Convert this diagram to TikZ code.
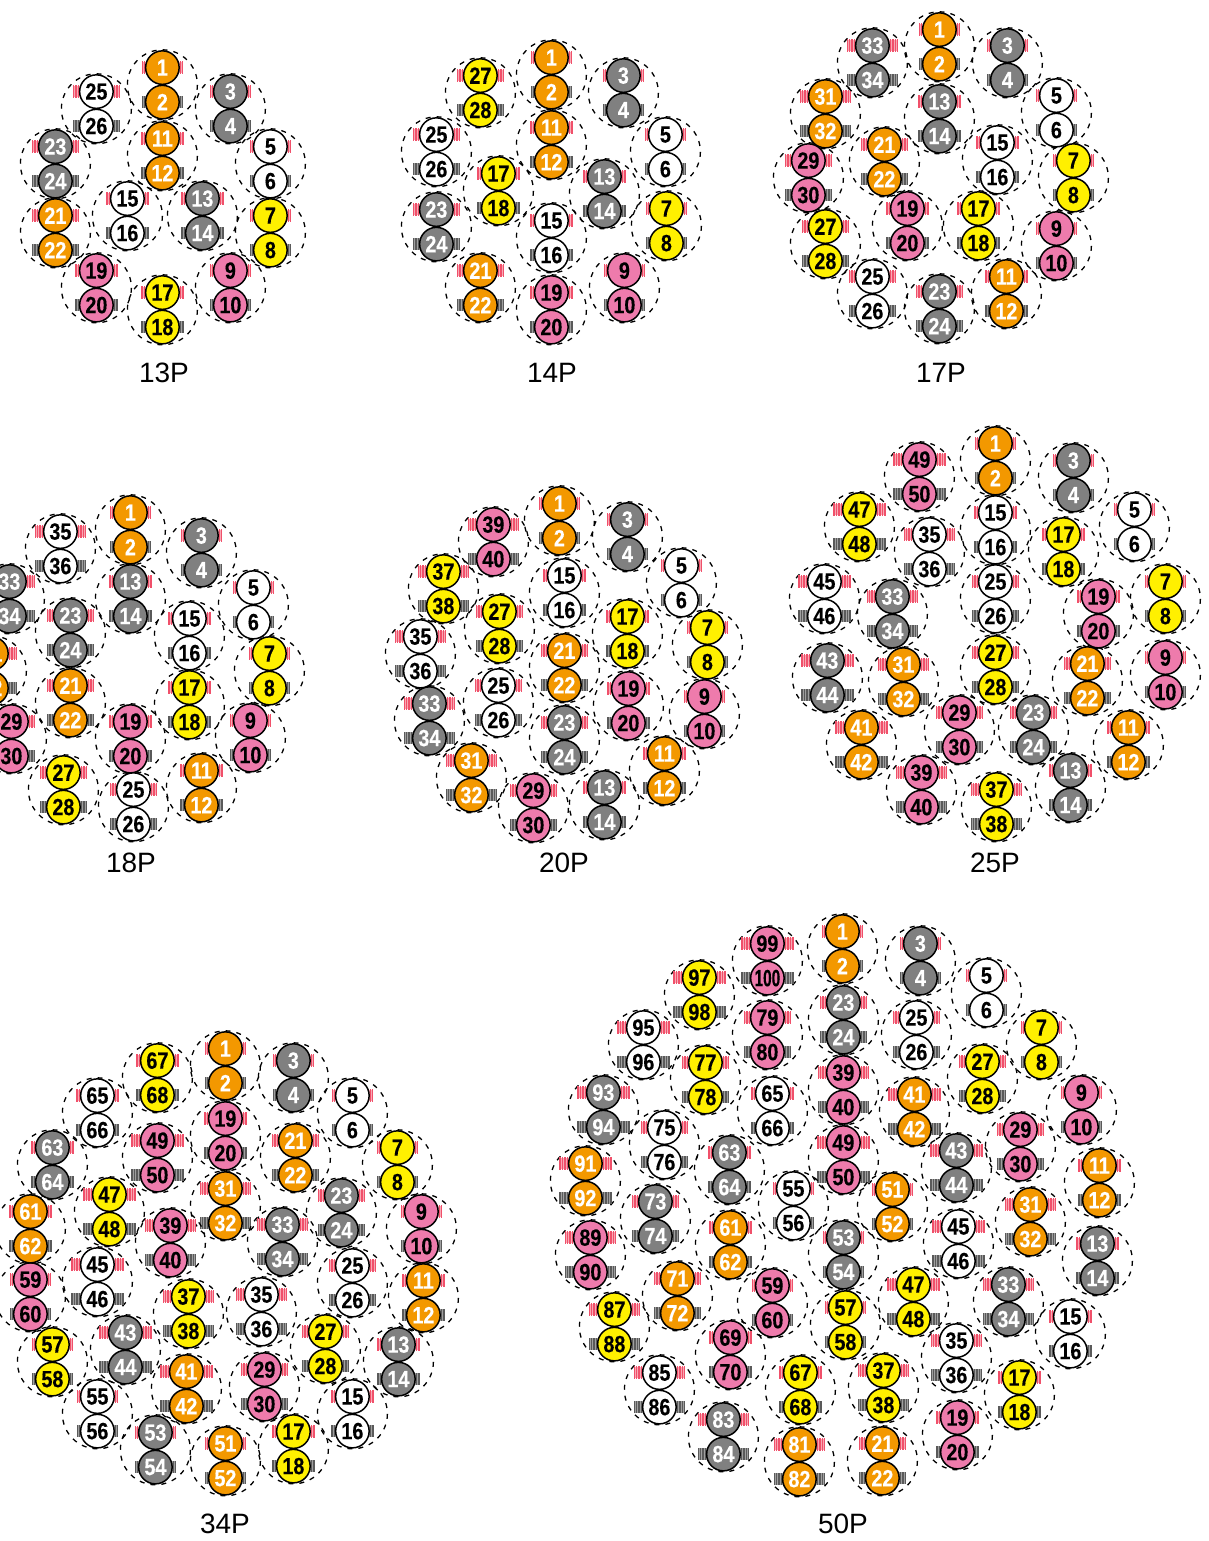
\documentclass[tikz,border=0pt]{standalone}
\usepackage{fontspec}
\setmainfont{Liberation Sans}
\newfontfamily\numfont[FakeStretch=0.84,BoldFeatures={FakeBold=0.3}]{Liberation Sans}
\definecolor{cO}{HTML}{F39800}
\definecolor{cG}{HTML}{808080}
\definecolor{cY}{HTML}{FFF000}
\definecolor{cP}{HTML}{EE7BAC}
\definecolor{cW}{HTML}{FFFFFF}
\definecolor{coilred}{HTML}{F0506A}
\definecolor{coilredlt}{HTML}{F8A8B4}
\definecolor{coilgray}{HTML}{5A5A5A}
\definecolor{coilgraylt}{HTML}{A0A0A0}
\tikzset{
  x=1pt,y=-1pt,
  ringline/.style={draw=black,dashed,dash pattern=on 5pt off 6pt,line width=1.3pt},
  coilRb/.style={draw=coilredlt,line width=11.5pt},
  coilKb/.style={draw=coilgraylt,line width=11.5pt},
  coilR/.style={draw=coilred,line width=12.5pt,dash pattern=on 1.1pt off 0.6pt},
  coilK/.style={draw=coilgray,line width=12.5pt,dash pattern=on 1.1pt off 0.6pt},
  wire/.style={circle,draw=black,line width=1.5pt,minimum size=33.5pt,inner sep=0pt,font=\numfont\bfseries\fontsize{23.5}{23.5}\selectfont},
  tO/.style={wire,fill=cO,text=white},
  tG/.style={wire,fill=cG,text=white},
  tY/.style={wire,fill=cY,text=black},
  tP/.style={wire,fill=cP,text=black},
  tW/.style={wire,fill=cW,text=black},
  tag/.style={font=\fontsize{28}{28}\selectfont,text=black,inner sep=0pt},
}
\newcommand\pairs[2]{%
  \foreach \n/\x/\y/\c in {#2}{%
    \pgfmathtruncatemacro\k{int(mod(\n-1,50)/10)}%
    \pgfmathsetmacro\w{{20,21.7,23,25,26.7}[\k]}%
    \coordinate (#1a\n) at (\x+0.4,\y+0.6);
    \coordinate (#1b\n) at (\x+0.4,\y+35.1);
    \coordinate (#1c\n) at (\x+0.4,\y+17.8);
    \draw[ringline] (#1c\n) circle[radius=35];
    \foreach \s in {1,-1}{%
      \pgfmathsetmacro\ia{14*\s}%
      \pgfmathsetmacro\ib{\w*\s}%
      \draw[coilRb] ([xshift=\ia]#1a\n) -- ([xshift=\ib]#1a\n);
      \draw[coilR] ([xshift=\ia]#1a\n) -- ([xshift=\ib]#1a\n);
      \draw[coilKb] ([xshift=\ia]#1b\n) -- ([xshift=\ib]#1b\n);
      \draw[coilK] ([xshift=\ia]#1b\n) -- ([xshift=\ib]#1b\n);
    }%
  }%
  \foreach \n/\x/\y/\c in {#2}{%
    \pgfmathtruncatemacro\m{\n+1}%
    \node[t\c] (#1n\n) at (#1a\n) {\n};
    \ifnum\m=100
      \node[t\c] (#1n\m) at (#1b\n) {\scalebox{0.78}[1]{\m}};
    \else
      \node[t\c] (#1n\m) at (#1b\n) {\m};
    \fi
  }%
}
\begin{document}
\begin{tikzpicture}
\clip (0,0) rectangle (1208,1541);
\pairs{A}{1/162/67/O,3/230/91/G,5/270/146/W,7/270/215/Y,9/230/270/P,11/162/138/O,13/202/198/G,15/127/198/W,17/162/292/Y,19/96/270/P,21/55/215/O,23/55/146/G,25/96/91/W}
\node[tag] (lA) at (164,373) {13P};
\pairs{B}{1/551/57/O,3/623/75/G,5/665/134/W,7/666/208/Y,9/624/270/P,11/551/127/O,13/604/176/G,15/551/220/W,17/498/173/Y,19/551/292/P,21/480/270/O,23/436/209/G,25/436/134/W,27/480/75/Y}
\node[tag] (lB) at (552,373) {14P};
\pairs{C}{1/939/29/O,3/1007/45/G,5/1056/95/W,7/1073/160/Y,9/1056/228/P,11/1006/276/O,13/939/101/G,15/997/142/W,17/978/208/Y,19/907/208/P,21/884/144/O,23/939/291/G,25/872/276/W,27/825/226/Y,29/808/160/P,31/825/96/O,33/872/45/G}
\node[tag] (lC) at (941,373) {17P};
\pairs{D}{1/130/512/O,3/201/535/G,5/253/587/W,7/269/653/Y,9/250/720/P,11/201/770/O,13/130/581/G,15/189/618/W,17/189/687/Y,19/130/721/P,21/70/685/O,23/70/615/G,25/133/789/W,27/63/772/Y,29/11/721/P,31/-9/653/O,33/9/581/G,35/60/531/W}
\node[tag] (lD) at (131,863) {18P};
\pairs{E}{1/559/503/O,3/627/519/G,5/681/565/W,7/707/627/Y,9/704/696/P,11/664/753/O,13/604/787/G,15/564/575/W,17/627/616/Y,19/628/688/P,21/564/650/O,23/564/722/G,25/498/685/W,27/499/611/Y,29/533/790/P,31/471/760/O,33/429/703/G,35/420/636/W,37/443/571/Y,39/493/524/P}
\node[tag] (lE) at (564,863) {20P};
\pairs{F}{1/995/443/O,3/1073/460/G,5/1134/509/W,7/1165/581/Y,9/1165/657/P,11/1128/727/O,13/1070/770/G,15/995/512/W,17/1063/534/Y,19/1098/596/P,21/1087/663/O,23/1033/712/G,25/995/581/W,27/995/652/Y,29/959/712/P,31/903/664/O,33/892/596/G,35/929/534/W,37/996/789/Y,39/921/772/P,41/861/727/O,43/827/660/G,45/824/581/W,47/859/509/Y,49/919/459/P}
\node[tag] (lF) at (995,863) {25P};
\pairs{G}{1/225/1048/O,3/293/1060/G,5/352/1095/W,7/397/1147/Y,9/421/1211/P,11/423/1280/O,13/398/1344/G,15/352/1396/W,17/293/1431/Y,19/225/1118/P,21/295/1140/O,23/341/1195/G,25/352/1265/W,27/325/1331/Y,29/264/1369/P,31/225/1188/O,33/282/1224/G,35/261/1294/W,37/188/1296/Y,39/170/1225/P,41/186/1371/O,43/125/1332/G,45/97/1264/W,47/109/1194/Y,49/157/1140/P,51/225/1443/O,53/155/1432/G,55/97/1396/W,57/52/1344/Y,59/30/1279/P,61/30/1211/O,63/52/1147/G,65/97/1095/W,67/157/1060/Y}
\node[tag] (lG) at (225,1524) {34P};
\pairs{H}{1/842/931/O,3/920/943/G,5/986/975/W,7/1041/1027/Y,9/1081/1092/P,11/1099/1165/O,13/1097/1243/G,15/1070/1316/W,17/1019/1377/Y,19/957/1417/P,21/882/1443/O,23/843/1002/G,25/916/1017/W,27/982/1061/Y,29/1020/1129/P,31/1030/1204/O,33/1008/1284/G,35/956/1340/W,37/883/1370/Y,39/843/1072/P,41/914/1094/O,43/956/1150/G,45/958/1226/W,47/913/1284/Y,49/843/1142/P,51/892/1189/O,53/843/1237/G,55/793/1188/W,57/845/1307/Y,59/772/1285/P,61/730/1227/O,63/729/1152/G,65/772/1093/W,67/800/1372/Y,69/730/1337/P,71/677/1278/O,73/655/1201/G,75/664/1127/W,77/705/1062/Y,79/767/1017/P,81/799/1444/O,83/723/1419/G,85/659/1372/W,87/614/1309/Y,89/590/1237/P,91/585/1163/O,93/603/1092/G,95/643/1027/W,97/699/977/Y,99/767/943/P}
\node[tag] (lH) at (843,1524) {50P};
\end{tikzpicture}
\end{document}
